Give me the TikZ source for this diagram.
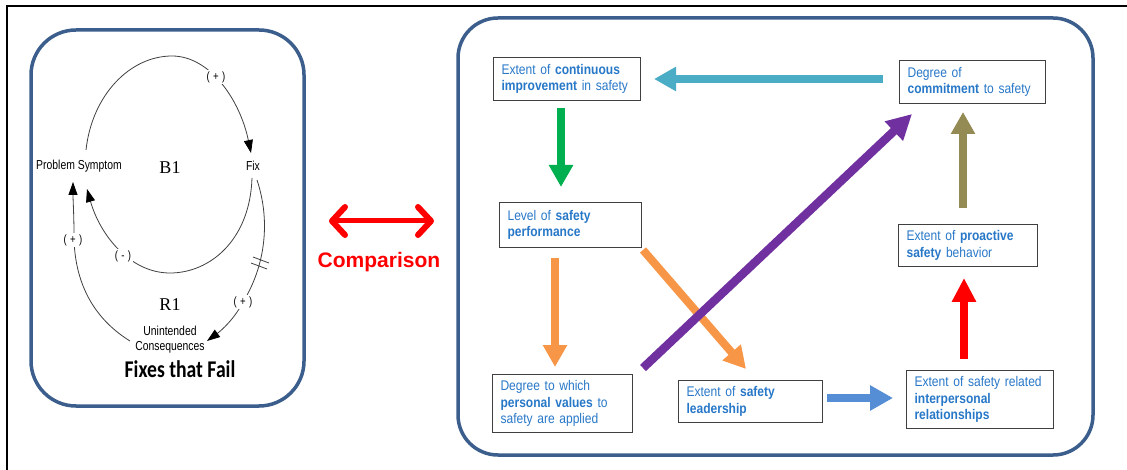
\documentclass[tikz,border=0pt]{standalone}
\usepackage{fontspec}
\setmainfont{Liberation Sans}
\newfontfamily\boxfont[FakeStretch=0.86]{Liberation Sans}
\newfontfamily\cldfont[FakeStretch=0.8]{Liberation Sans}
\newfontfamily\serifB{Liberation Serif}
\newfontfamily\titlefont[FakeStretch=0.82]{Carlito}
\usetikzlibrary{arrows.meta}
\definecolor{frameblue}{RGB}{59,94,140}
\definecolor{txtblue}{RGB}{40,120,200}
\definecolor{cgreen}{RGB}{0,176,80}
\definecolor{ccyan}{RGB}{75,172,198}
\definecolor{cpurple}{RGB}{112,48,160}
\definecolor{colive}{RGB}{148,138,84}
\definecolor{cblue}{RGB}{85,142,213}
\definecolor{corange}{RGB}{247,150,70}
\tikzset{
  rbox/.style={draw=black!75, line width=1.1pt, fill=white, anchor=north west,
    inner xsep=8pt, inner ysep=0pt, align=left, text=txtblue,
    font=\boxfont\fontsize{14}{16.5}\selectfont},
  cld/.style={font=\cldfont\fontsize{13}{16}\selectfont, inner sep=1pt, align=center},
  sgn/.style={font=\cldfont\fontsize{12}{12}\selectfont, fill=white, inner sep=1.5pt},
  loopname/.style={font=\serifB\fontsize{18}{18}\selectfont},
  arc/.style={draw=black!75, line width=0.8pt},
  arctip/.style={-{Triangle[length=13pt,width=9pt,color=black]}},
  blockarrow/.style={line width=8pt, -{Triangle[length=22pt,width=23pt]}},
  roundframe/.style={draw=frameblue, line width=3.5pt, rounded corners=#1},
}
\begin{document}
\begin{tikzpicture}[x=1pt,y=-1pt]
\path[fill=white] (0,0) rectangle (1127,470);
\useasboundingbox (0,0) rectangle (1127,470);
% outer frame
\draw[line width=2pt] (7,470) -- (7,6) -- (1127,6);
% rounded frames
\draw[roundframe=45pt] (31,30) rectangle (304,406);
\draw[roundframe=40pt] (458,18) rectangle (1093,455);

% ---------- Left: Fixes that Fail ----------
\node[cld] (ps) at (79,166) {Problem Symptom};
\node[cld] (fix) at (253,166) {Fix};
\node[cld] (uc) at (170,340) {Unintended\\[-1pt]Consequences};
\node[loopname] (b1) at (170,168) {B1};
\node[loopname] (r1) at (170,305) {R1};
\node[font=\titlefont\bfseries\fontsize{24}{24}\selectfont] (title) at (180,369) {Fixes that Fail};

\coordinate (a1s) at (86,150);
\coordinate (a1e) at (251,153);
\coordinate (a2s) at (252,178);
\coordinate (a2e) at (87,189);
\coordinate (a3s) at (257,180);
\coordinate (a3e) at (207,341);
\coordinate (a4s) at (130,341);
\coordinate (a4e) at (73,182);

\draw[arc,arctip] (a1s) .. controls (92,95) and (130,56) .. (172,56)
   .. controls (210,56) and (240,100) .. (a1e);
\draw[arc,arctip] (a2s) .. controls (250,240) and (210,273) .. (170,273)
   .. controls (130,273) and (100,235) .. (a2e);
\draw[arc,arctip] (a3s) .. controls (272,225) and (263,270) .. (243,302)
   .. controls (235,318) and (222,330) .. (a3e);
\draw[arc,arctip] (a4s) .. controls (88,315) and (74,275) .. (74,235)
   .. controls (74,215) and (73,200) .. (a4e);
% delay marks
\draw[arc] (253,257) -- (269,263);
\draw[arc] (251,263) -- (267,269);

\node[sgn] (s1) at (216,77) {(\;+\;)};
\node[sgn] (s2) at (123,256) {(\;-\;)};
\node[sgn] (s3) at (73,240) {(\;+\;)};
\node[sgn] (s4) at (243,302) {(\;+\;)};

% ---------- Comparison ----------
\coordinate (cmpL) at (329,221);
\coordinate (cmpR) at (434,221);
\draw[red, line width=5pt, line cap=round,
  {Straight Barb[length=13pt,width=28pt,line width=6pt,round]}-{Straight Barb[length=13pt,width=28pt,line width=6pt,round]}]
  (cmpL) -- (cmpR);
\node[text=red, font=\bfseries\fontsize{21}{21}\selectfont] (cmp) at (379,262) {Comparison};

% ---------- Right: safety model ----------
\node[rbox, text width=131pt, minimum height=43pt] (A) at (493,57)
  {Extent of \textbf{continuous}\\\textbf{improvement} in safety};
\node[rbox, text width=126pt, minimum height=45pt] (B) at (499,202)
  {Level of \textbf{safety}\\\textbf{performance}};
\node[rbox, text width=130pt, minimum height=43pt] (C) at (899,60)
  {Degree of\\\textbf{commitment} to safety};
\node[rbox, text width=123pt, minimum height=42pt] (D) at (898,224)
  {Extent of \textbf{proactive}\\\textbf{safety} behavior};
\node[rbox, text width=124pt, minimum height=58pt] (E) at (492,374)
  {Degree to which\\\textbf{personal values} to\\safety are applied};
\node[rbox, text width=128pt, minimum height=42pt] (F) at (678,380)
  {Extent of \textbf{safety}\\\textbf{leadership}};
\node[rbox, text width=131pt, minimum height=58pt] (G) at (906,370)
  {Extent of safety related\\\textbf{interpersonal}\\\textbf{relationships}};

\coordinate (gA) at (561,108);  \coordinate (gB) at (561,187);
\coordinate (cC) at (883,79);   \coordinate (cA) at (654,79);
\coordinate (oB) at (555,258);  \coordinate (oE) at (555,367);
\coordinate (dB) at (643,250);  \coordinate (dF) at (746,369);
\coordinate (pE) at (643,368);  \coordinate (pC) at (912,114);
\coordinate (bF) at (827,398);  \coordinate (bG) at (893,398);
\coordinate (rG) at (964,359);  \coordinate (rD) at (964,278);
\coordinate (lD) at (963,208);  \coordinate (lC) at (963,112);

\draw[blockarrow, cgreen] (gA) -- (gB);
\draw[blockarrow, ccyan, line width=7.5pt] (cC) -- (cA);
\draw[blockarrow, corange] (oB) -- (oE);
\draw[blockarrow, corange] (dB) -- (dF);
\draw[blockarrow, cpurple, line width=8.5pt, -{Triangle[length=25pt,width=25pt]}] (pE) -- (pC);
\draw[blockarrow, cblue, -{Triangle[length=23pt,width=24pt]}] (bF) -- (bG);
\draw[blockarrow, red, -{Triangle[length=24pt,width=23pt]}] (rG) -- (rD);
\draw[blockarrow, colive] (lD) -- (lC);
\end{tikzpicture}
\end{document}
